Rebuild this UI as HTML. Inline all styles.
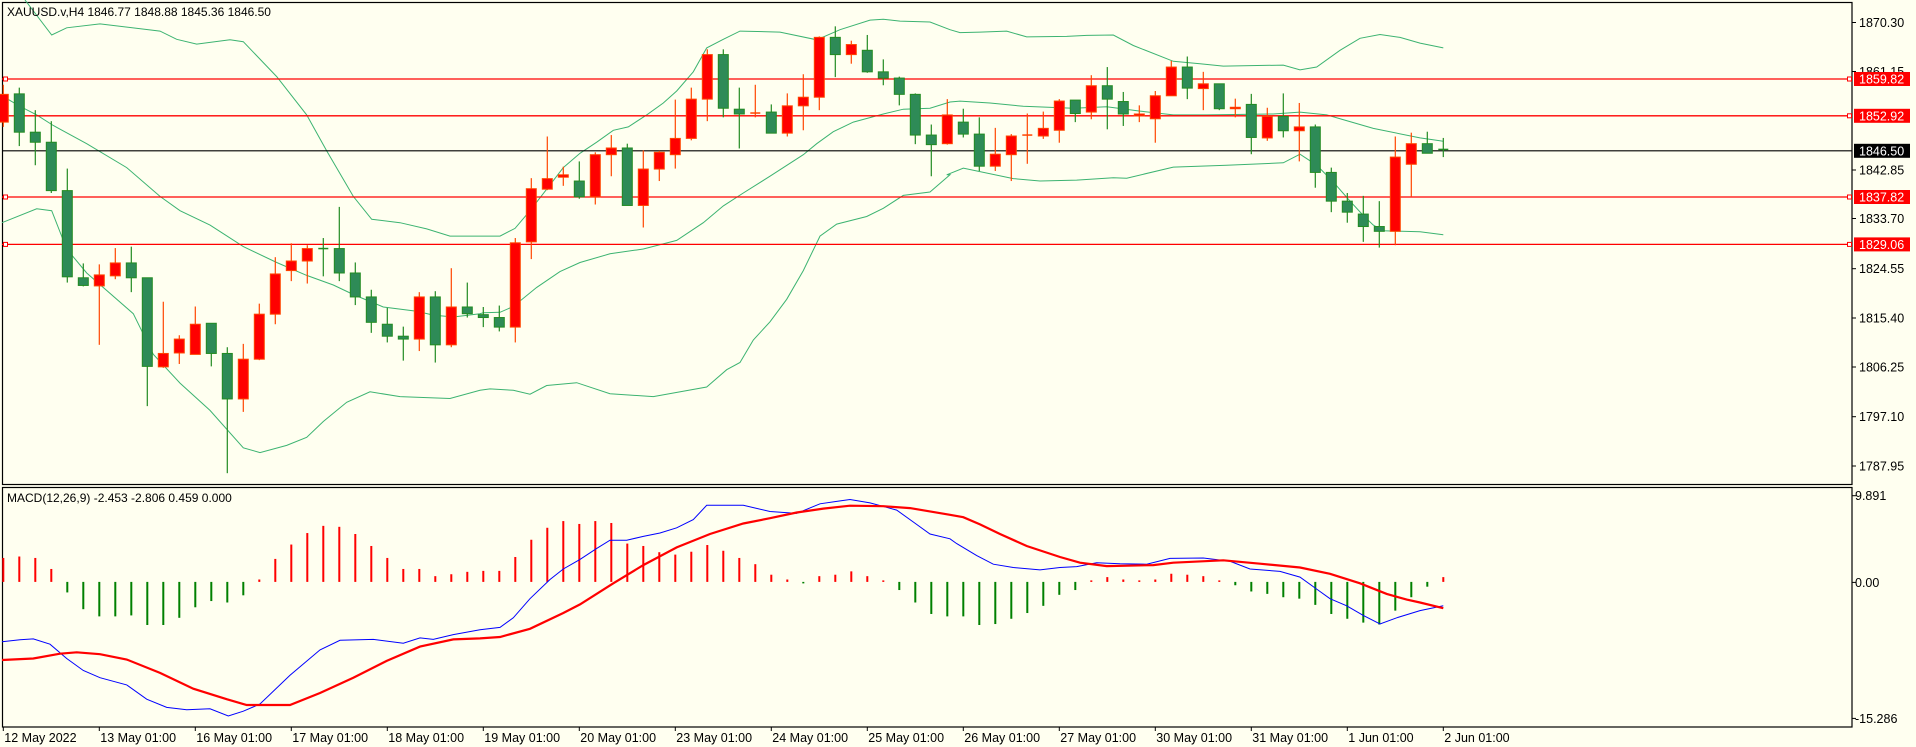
<!DOCTYPE html>
<html><head><meta charset="utf-8"><style>
html,body{margin:0;padding:0;background:#fffff0;}
svg{display:block;font-family:"Liberation Sans",sans-serif;}
</style></head><body>
<svg id="s" width="1916" height="747" xmlns="http://www.w3.org/2000/svg">
<rect x="0" y="0" width="1916" height="747" fill="#fffff0"/>
</svg>
<script>
const S=document.getElementById('s');const NS='http://www.w3.org/2000/svg';
function el(t,a,txt){const e=document.createElementNS(NS,t);for(const k in a)e.setAttribute(k,a[k]);if(txt!==undefined)e.textContent=txt;S.appendChild(e);return e;}
const Q=2.088;
const cx=i=>3.3+16*i;
// candles: [color(1=red,0=green), bodyTop, bodyBot, wickTop, wickBot] zoom-y
const C=[[1,197,255,177,265],[0,196,276,183,305],[0,276,297,230,345],[0,297,398,253,403],[0,398,578,352,590],[0,580,596,550,598],[1,574,597,552,720],[1,549,576,518,583],[0,549,580,515,610],[0,580,765,580,848],
[1,738,766,630,768],[1,708,737,700,760],[1,677,740,640,740],[0,675,738,675,765],[0,738,833,725,988],[1,750,833,718,860],[1,656,750,634,752],[1,572,656,537,677],[1,545,565,508,587],[1,519,545,512,592],
[0,519,520,497,577],[0,519,570,432,587],[0,570,620,548,637],[0,620,673,605,695],[0,677,702,643,715],[0,702,708,682,753],[1,620,708,610,733],[0,620,720,608,757],[1,641,720,560,725],[0,641,655,590,663],
[0,657,663,641,683],[0,663,683,638,692],[1,507,683,497,715],[1,394,505,372,541],[1,373,395,285,397],[1,365,370,348,388],[0,378,411,337,415],[1,323,411,318,427],[1,309,323,282,368],[0,309,429,300,429],
[1,353,429,314,475],[1,318,353,315,378],[1,289,323,208,352],[1,207,289,183,293],[1,114,207,103,253],[0,114,226,103,245],[0,228,238,183,310],[1,236,238,177,245],[0,234,278,218,278],[1,221,278,195,285],
[1,203,221,155,272],[1,78,203,76,230],[0,78,114,55,161],[1,93,114,85,133],[0,105,150,73,152],[0,150,163,124,178],[0,163,197,160,220],[0,197,282,195,301],[0,282,302,260,368],[1,240,300,207,302],
[0,255,280,227,287],[0,280,347,245,357],[1,322,347,267,357],[1,284,323,280,378],[1,282,284,237,342],[1,268,284,233,290],[1,211,272,207,298],[0,209,237,209,255],[1,179,234,157,249],[0,179,207,140,270],
[0,212,238,192,263],[1,238,242,220,255],[1,200,248,190,298],[1,140,200,127,200],[0,140,184,118,207],[1,175,185,150,230],[0,175,227,175,230],[1,224,227,206,245],[0,218,287,196,322],[1,243,288,225,294],
[0,243,273,195,287],[1,265,273,215,337],[0,265,360,260,392],[0,360,420,350,443],[0,420,443,403,465],[0,447,473,409,505],[0,473,483,420,517],[1,328,483,285,512],[1,300,343,277,410],[0,300,320,275,320],[0,312,314,288,328]];
// bands (zoom coords per segment)
function seg(x0,pts){return pts.map(p=>[x0+p[0]/3,p[1]/Q]);}
const up=[].concat(seg(0,[[75,0],[155,73],[200,58],[300,50],[480,65],[530,82],[590,92],[690,83],[730,87],[830,160],[920,240],[980,315],[1060,410],[1115,458],[1200,465],[1280,478],[1350,493],[1440,493]]),
seg(470,[[90,493],[135,477],[180,440],[230,395],[280,350],[330,320],[380,297],[430,272],[475,265],[530,240],[580,215],[620,190],[670,150],[710,100],[760,82],[810,65],[930,67],[1040,83],[1110,62],[1200,42],[1240,40],[1290,44],[1380,46],[1440,62]]),
seg(940,[[60,68],[120,67],[200,65],[260,77],[380,76],[440,74],[520,73],[580,95],[700,128],[780,133],[850,138],[1030,136],[1080,146],[1130,140],[1200,105],[1260,80],[1320,72],[1380,78],[1440,90]]),seg(1400,[[130,100]]));
const mid=[].concat(seg(0,[[6,200],[60,222],[110,240],[160,262],[260,300],[380,350],[480,410],[540,440],[630,470],[730,515],[830,548],[920,575],[1000,595],[1060,615],[1150,641],[1250,650],[1300,658],[1360,662],[1440,655]]),
seg(470,[[40,653],[90,652],[130,640],[200,600],[270,567],[330,548],[420,530],[520,520],[620,502],[700,465],[760,430],[820,403],[900,368],[1000,323],[1040,300],[1090,275],[1150,255],[1240,238],[1300,228],[1380,226],[1440,213]]),
seg(940,[[60,211],[150,215],[250,222],[400,226],[500,223],[600,232],[700,240],[800,240],[1000,238],[1080,234],[1160,240],[1300,268],[1440,288]]),seg(1400,[[130,295]]));
const lo=[].concat(seg(0,[[6,465],[110,436],[155,440],[200,520],[260,570],[400,655],[460,740],[540,800],[630,857],[730,935],[780,945],[860,930],[920,913],[970,880],[1040,840],[1110,818],[1200,828],[1350,832],[1440,815]]),
seg(470,[[60,812],[130,815],[180,823],[230,805],[320,799],[420,822],[550,828],[710,808],[770,772],[810,757],[850,710],[900,672],[950,625],[1000,565],[1050,493],[1100,468],[1190,452],[1240,435],[1300,408],[1380,401],[1440,365]]),
seg(940,[[20,365],[70,351],[220,373],[300,378],[410,376],[520,371],[560,372],[700,349],[860,345],[1030,340],[1080,322],[1130,345],[1180,380],[1230,420],[1270,450],[1300,470],[1330,482],[1440,484]]),seg(1400,[[130,490]]));
const pl=(pts,c,w)=>el('polyline',{points:pts.map(p=>p[0].toFixed(1)+','+p[1].toFixed(1)).join(' '),fill:'none',stroke:c,'stroke-width':w});
// clip for main pane
el('rect',{x:2.5,y:2.5,width:1849.5,height:482,fill:'none',stroke:'#000','stroke-width':1.2});
pl(up,'#3cb371',1);pl(mid,'#3cb371',1);pl(lo,'#3cb371',1);
// horizontal lines
[[79,'#ff0000','1859.82'],[115.8,'#ff0000','1852.92'],[197,'#ff0000','1837.82'],[244.4,'#ff0000','1829.06']].forEach(h=>{
el('line',{x1:2,x2:1852,y1:h[0],y2:h[0],stroke:h[1],'stroke-width':1.3});
el('rect',{x:3.5,y:h[0]-2,width:4,height:4,fill:'#fff',stroke:'#f00','stroke-width':1});
el('rect',{x:1847.5,y:h[0]-2,width:4,height:4,fill:'#fff',stroke:'#f00','stroke-width':1});
});
el('line',{x1:2,x2:1852,y1:150.8,y2:150.8,stroke:'#000','stroke-width':1.2});
// candles
C.forEach((c,i)=>{const x=cx(i);const col=c[0]?'#ff0000':'#2e8b57';const bc=c[0]?'#ff4500':'#228b22';
el('line',{x1:x,x2:x,y1:c[3]/Q,y2:c[4]/Q,stroke:bc,'stroke-width':1.2});
let t=c[1]/Q,b=c[2]/Q;if(b-t<1){el('line',{x1:x-5,x2:x+5,y1:t,y2:t,stroke:bc,'stroke-width':1.5});}
else el('rect',{x:x-5,y:t,width:10,height:b-t,fill:col,stroke:bc,'stroke-width':1});
});
// title
el('text',{x:7,y:16,'font-size':12,fill:'#000'},'XAUUSD.v,H4  1846.77 1848.88 1845.36 1846.50');
// price axis
const ticks=[['1870.30',22.5],['1861.15',71.5],['1842.85',170],['1833.70',218.5],['1824.55',268.7],['1815.40',318],['1806.25',367],['1797.10',416.7],['1787.95',466]];
ticks.forEach(t=>{el('line',{x1:1852,x2:1856,y1:t[1],y2:t[1],stroke:'#000'});el('text',{x:1859,y:t[1]+4.5,'font-size':12.5,fill:'#000'},t[0]);});
[[79,'1859.82','#ff0000'],[115.8,'1852.92','#ff0000'],[150.8,'1846.50','#000'],[197,'1837.82','#ff0000'],[244.4,'1829.06','#ff0000']].forEach(l=>{
el('rect',{x:1854,y:l[0]-7,width:56,height:14,fill:l[2]});el('text',{x:1859,y:l[0]+4.5,'font-size':12.5,fill:'#fff'},l[1]);});
// MACD pane
el('rect',{x:2.5,y:487.5,width:1849.5,height:239.5,fill:'none',stroke:'#000','stroke-width':1.2});
el('text',{x:7,y:502,'font-size':12,fill:'#000'},'MACD(12,26,9) -2.453 -2.806 0.459 0.000');
const H=[1165,1162,1165,1188,1237,1272,1287,1287,1285,1305,1305,1290,1268,1255,1258,1243,1210,1167,1137,1113,1098,1100,1115,1140,1165,1188,1188,1203,1199,1194,
1192,1192,1163,1127,1102,1088,1094,1088,1092,1135,1140,1153,1158,1152,1138,1150,1165,1178,1200,1210,1217,1203,1200,1193,1203,1213,1232,1258,1282,1287,
1287,1305,1303,1292,1280,1265,1242,1232,1213,1205,1210,1212,1210,1198,1200,1203,1213,1222,1235,1240,1247,1250,1263,1282,1292,1300,1304,1275,1247,1225,1205];
const z=1215/Q;
H.forEach((h,i)=>{const y=h/Q;const x=cx(i);const pos=y<z;let t=Math.min(y,z),b=Math.max(y,z);if(b-t<1.5){if(pos)t=b-1.5;else b=t+1.5;}
el('rect',{x:x-1,y:t,width:2,height:b-t,fill:pos?'#ff0000':'#008000'});});
const blue=[].concat(seg(0,[[6,1340],[60,1336],[100,1334],[150,1345],[200,1375],[250,1400],[300,1415],[380,1430],[440,1460],[500,1477],[560,1482],[630,1480],[685,1495],[730,1485],[780,1470],[870,1410],[960,1357],[1020,1337],[1120,1335],[1210,1343],[1260,1332],[1300,1335],[1360,1325],[1440,1315]]),
seg(470,[[90,1310],[130,1290],[180,1250],[240,1210],[280,1188],[330,1168],[380,1145],[420,1128],[470,1128],[520,1120],[570,1113],[620,1102],[670,1085],[710,1055],[820,1055],[900,1068],[980,1072],[1050,1052],[1100,1047],[1140,1043],[1200,1050],[1280,1065],[1330,1090],[1380,1115],[1440,1125]]),
seg(940,[[50,1135],[110,1160],[160,1178],[220,1185],[300,1190],[360,1185],[410,1183],[470,1175],[540,1177],[620,1178],[690,1166],[790,1165],[870,1172],[930,1188],[1020,1193],[1080,1205],[1130,1230],[1170,1250],[1220,1265],[1270,1285],[1320,1303],[1370,1290],[1440,1275]]),seg(1400,[[130,1265]]));
const sig=[].concat(seg(0,[[6,1378],[100,1375],[180,1365],[230,1362],[300,1366],[380,1377],[480,1405],[580,1438],[680,1460],[740,1472],[870,1472],[960,1447],[1060,1415],[1160,1380],[1260,1350],[1360,1335],[1440,1333]]),
seg(470,[[90,1330],[180,1313],[280,1280],[330,1262],[430,1218],[520,1180],[620,1143],[720,1115],[820,1093],[900,1082],[980,1070],[1060,1062],[1140,1056],[1240,1057],[1320,1061],[1440,1075]]),
seg(940,[[70,1080],[120,1095],[180,1115],[260,1140],[360,1163],[420,1175],[500,1182],[640,1180],[700,1175],[850,1170],[960,1177],[1080,1185],[1170,1198],[1260,1218],[1340,1240],[1400,1252],[1440,1258]]),seg(1400,[[130,1270]]));
pl(blue,'#0000ff',1);pl(sig,'#ff0000',2.2);
[['9.891',495.7],['0.00',582.4],['-15.286',718.4]].forEach(t=>{el('line',{x1:1852,x2:1856,y1:t[1],y2:t[1],stroke:'#000'});el('text',{x:1855,y:t[1]+4.5,'font-size':12.5,fill:'#000'},t[0]);});
// time axis
const L=['12 May 2022','13 May 01:00','16 May 01:00','17 May 01:00','18 May 01:00','19 May 01:00','20 May 01:00','23 May 01:00','24 May 01:00','25 May 01:00','26 May 01:00','27 May 01:00','30 May 01:00','31 May 01:00','1 Jun 01:00','2 Jun 01:00'];
L.forEach((t,k)=>{const x=cx(k*6);el('line',{x1:x,x2:x,y1:727,y2:731,stroke:'#000'});el('text',{x:x+1,y:742,'font-size':12.5,fill:'#000'},t);});
</script>
</body></html>
